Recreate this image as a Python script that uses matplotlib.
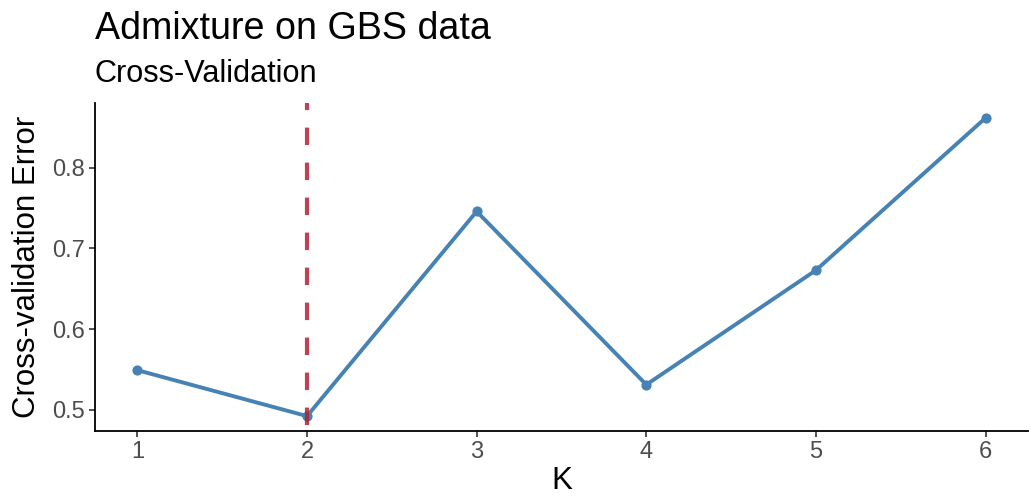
import matplotlib
matplotlib.use("Agg")
import matplotlib.pyplot as plt

plt.rcParams['font.family'] = ['Liberation Sans', 'DejaVu Sans']

# cross-validation error per K
k_values = [1, 2, 3, 4, 5, 6]
cv_error = [0.549, 0.492, 0.746, 0.531, 0.673, 0.862]
best_k = 2

fig = plt.figure(figsize=(10.29, 5.03), dpi=100)
ax = fig.add_axes([0.0923, 0.1431, 0.9067, 0.6521])

ax.plot(k_values, cv_error, color='#4682B4', linewidth=2.8, zorder=2)
ax.scatter(k_values, cv_error, color='#4682B4', s=40, zorder=3)
# dashed marker for the chosen K, drawn top to bottom like ggplot
ax.axvline(best_k, ymin=1, ymax=0, color='#B22234', alpha=0.85,
           linestyle=(2.5, (4.2, 4.2)), linewidth=3.0, zorder=4)

ax.set_xlim(0.75, 6.25)
ax.set_ylim(0.4735, 0.8805)
ax.set_xticks(k_values)
ax.set_yticks([0.5, 0.6, 0.7, 0.8])
ax.set_yticklabels(['0.5', '0.6', '0.7', '0.8'])

for side in ['top', 'right']:
    ax.spines[side].set_visible(False)
for side in ['left', 'bottom']:
    ax.spines[side].set_linewidth(1.3)
ax.tick_params(axis='both', length=4, width=1.2, color='#333333',
               labelsize=17, labelcolor='#4D4D4D', pad=3.5)

ax.set_xlabel('K', fontsize=22.5, labelpad=2)
ax.set_ylabel('Cross-validation Error', fontsize=22.5, labelpad=7)

fig.text(0.0923, 0.9225, 'Admixture on GBS data', fontsize=27.1, ha='left', va='baseline')
fig.text(0.0923, 0.837, 'Cross-Validation', fontsize=22.1, ha='left', va='baseline')

fig.savefig('out.png', dpi=100)
